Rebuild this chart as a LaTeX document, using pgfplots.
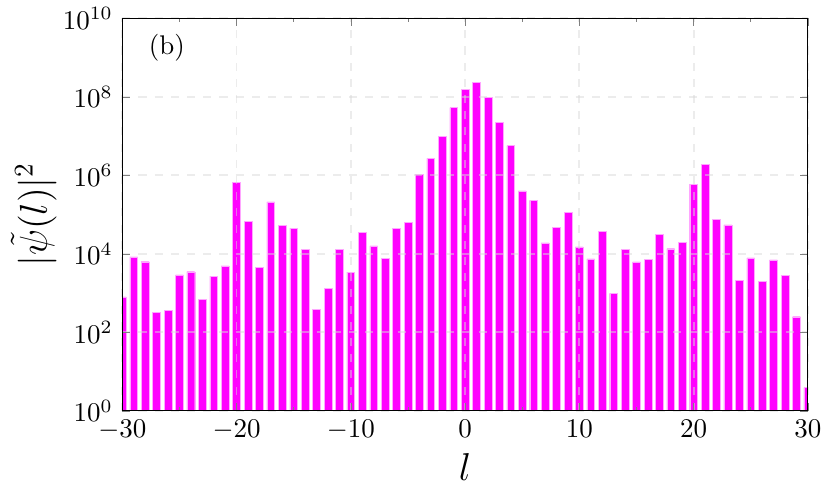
\documentclass[border=0pt]{standalone}
\usepackage{pgfplots}
\pgfplotsset{compat=1.18}
\definecolor{mag}{RGB}{255,0,255}
\pgfplotstableread{
l val
-30 800
-29 8400
-28 6300
-27 320
-26 370
-25 2900
-24 3500
-23 700
-22 2700
-21 4900
-20 650000
-19 66000
-18 4500
-17 210000
-16 54000
-15 45000
-14 13000
-13 390
-12 1300
-11 13000
-10 3400
-9 35000
-8 16000
-7 7800
-6 45000
-5 64000
-4 1070000
-3 2700000
-2 9800000
-1 53000000
0 156000000
1 236000000
2 96000000
3 22000000
4 5700000
5 400000
6 230000
7 19000
8 48000
9 115000
10 15000
11 7400
12 37000
13 980
14 13000
15 6200
16 7200
17 31000
18 13500
19 19500
20 600000
21 1870000
22 76000
23 55000
24 2100
25 7900
26 2000
27 7000
28 2800
29 250
30 3.9
}\datatable
\begin{document}
\begin{tikzpicture}
\useasboundingbox (-45.3pt,-32.2pt) rectangle (262.2pt,152.2pt);
\begin{axis}[
  at={(0,0)}, anchor=south west,
  scale only axis, width=254pt, height=145.4pt,
  ymode=log, ymin=1, ymax=1e10,
  xmin=-30, xmax=30,
  ytick={1,1e2,1e4,1e6,1e8,1e10},
  yminorticks=false,
  xtick={-30,-20,...,30},
  minor xtick={-25,-15,...,25},
  tick align=inside,
  major tick length=3pt, minor tick length=1.5pt,
  xmajorgrids, ymajorgrids,
  major grid style={dashed, gray!30, opacity=0.5, line width=0.7pt},
  axis on top,
  xlabel={$l$}, ylabel={$|\tilde{\psi}(l)|^2$},
  label style={font=\Large},
  xlabel style={yshift=2pt},
  ylabel style={yshift=-4.5pt},
  clip=true,
]
\addplot[ybar, bar width=0.68, fill=mag, draw=mag!35, line width=0.15pt] table[x=l, y=val] {\datatable};
\node at (rel axis cs:0.065,0.924) {(b)};
\end{axis}
\end{tikzpicture}
\end{document}
